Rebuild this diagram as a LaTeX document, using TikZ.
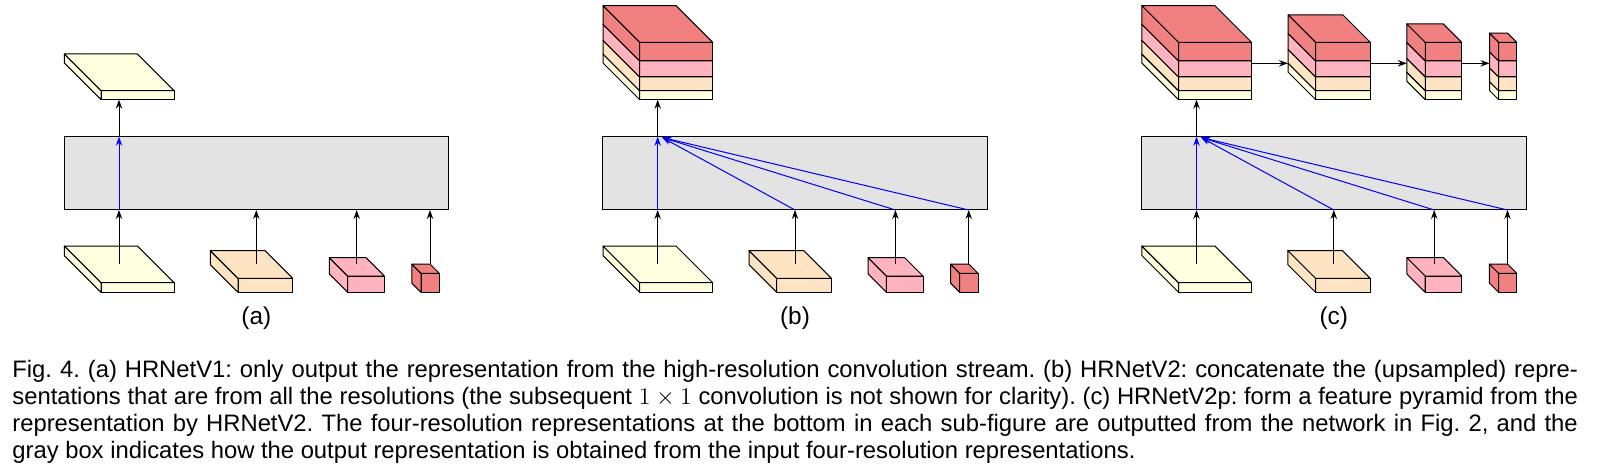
\documentclass[tikz,border=0pt]{standalone}
\usepackage{fontspec}
\setmainfont{Liberation Sans}
\usetikzlibrary{arrows.meta,positioning,calc}
\definecolor{slabyellow}{RGB}{255,255,224}
\definecolor{slaborange}{RGB}{255,228,196}
\definecolor{slabpink}{RGB}{255,179,191}
\definecolor{slabred}{RGB}{241,128,128}
\definecolor{boxgray}{RGB}{227,227,227}
\tikzset{
  conn/.style={-{Stealth[length=4.5pt,width=3.2pt]},line width=0.5pt},
  upconn/.style={conn,blue},
  slabline/.style={draw=black,line width=0.5pt,line join=round},
  graybox/.style={draw=black,fill=boxgray,line width=0.5pt,inner sep=0pt,outer sep=0pt,minimum width=192.35pt,minimum height=36.65pt},
  sublabel/.style={font=\fontsize{12.2}{14}\selectfont},
  captiontext/.style={anchor=north west,inner sep=0pt,text width=782.75pt,align=justify,font=\fontsize{11.9}{13.6}\selectfont\frenchspacing}
}
% front top left corner, width, depth, height, colour
\newcommand{\cuboid}[7]{%
  \coordinate (#1) at (#2,#3);
  \draw[slabline,fill=#7] (#1) rectangle ++(#4,#6);
  \draw[slabline,fill=#7] (#1) -- ++(-#5,-#5) -- ++(0,#6) -- ++(#5,#5) -- cycle;
  \draw[slabline,fill=#7] (#1) -- ++(-#5,-#5) -- ++(#4,0) -- ++(#5,#5) -- cycle;
}
% four layers, bottom one first
\newcommand{\layerstack}[4]{%
  \cuboid{#1y}{#2}{90.7}{#3}{#4}{9}{slabyellow}
  \cuboid{#1o}{#2}{77}{#3}{#4}{13.7}{slaborange}
  \cuboid{#1p}{#2}{61}{#3}{#4}{16}{slabpink}
  \cuboid{#1r}{#2}{42.3}{#3}{#4}{18.7}{slabred}
}
\begin{document}
\begin{tikzpicture}[x=0.5pt,y=-0.5pt]
\useasboundingbox (0,0) rectangle (1599,470);
\foreach \p/\off/\lbl in {a/0/(a),b/538.7/(b),c/1077.5/(c)} {
  \begin{scope}[shift={(\off,0)},name prefix=\p-]
  \cuboid{in1}{101}{282.7}{73}{36.7}{9.6}{slabyellow}
  \cuboid{in2}{238}{278.3}{54.7}{27.7}{14}{slaborange}
  \cuboid{in3}{347.7}{276}{36.6}{18.3}{16.3}{slabpink}
  \cuboid{in4}{421}{273.3}{18.3}{9.1}{19}{slabred}
  \node[graybox] (box) at (256.35,173.35) {};
  \coordinate (s1) at (119,264);
  \coordinate (s2) at (256.3,264);
  \coordinate (s3) at (356.7,264);
  \coordinate (s4) at (430,264);
  \foreach \i in {1,2,3,4} \draw[conn] (s\i)--(s\i |- box.south);
  \coordinate (hub) at (s1 |- box.north);
  \coordinate (top) at (119,99.7);
  \draw[upconn] (s1 |- box.south)--(hub);
  \draw[conn] (hub)--(top);
  \node[sublabel] (label) at (256.3,318) {\lbl};
  \end{scope}
}
% panel a output
\cuboid{a-out}{101}{90.7}{73}{36.7}{9}{slabyellow}
% panels b and c, concatenation
\foreach \p in {b,c} {
  \coordinate (\p-join) at ($(\p-hub)+(4.5,0.8)$);
  \foreach \i in {2,3,4} \draw[upconn] (\p-s\i |- \p-box.south)--(\p-join);
}
\layerstack{b-s}{639.7}{73}{36.7}
\layerstack{c-s}{1178.5}{73}{36.7}
\layerstack{c-t}{1315.7}{54.6}{27.5}
\layerstack{c-u}{1425.3}{36.4}{18.5}
\layerstack{c-v}{1498.7}{18}{9.2}
\coordinate (c-a1) at (1251.5,63.3);
\coordinate (c-a2) at (1370.3,63.3);
\coordinate (c-a3) at (1461.7,63.3);
\coordinate (c-b1) at (1288,63.3);
\coordinate (c-b2) at (1406.8,63.3);
\coordinate (c-b3) at (1489.5,63.3);
\draw[conn] (c-a1)--(c-b1);
\draw[conn] (c-a2)--(c-b2);
\draw[conn] (c-a3)--(c-b3);
\node[captiontext] (caption) at (12,359.5) {Fig.~4. (a) HRNetV1: only output the representation from the high-resolution convolution stream. (b) HRNetV2: concatenate the (upsampled) repre-\linebreak sentations that are from all the resolutions (the subsequent $1\times 1$ convolution is not shown for clarity). (c) HRNetV2p: form a feature pyramid from the\linebreak representation by HRNetV2. The four-resolution representations at the bottom in each sub-figure are outputted from the network in Fig.~2, and the\linebreak gray box indicates how the output representation is obtained from the input four-resolution representations.};
\end{tikzpicture}
\end{document}
